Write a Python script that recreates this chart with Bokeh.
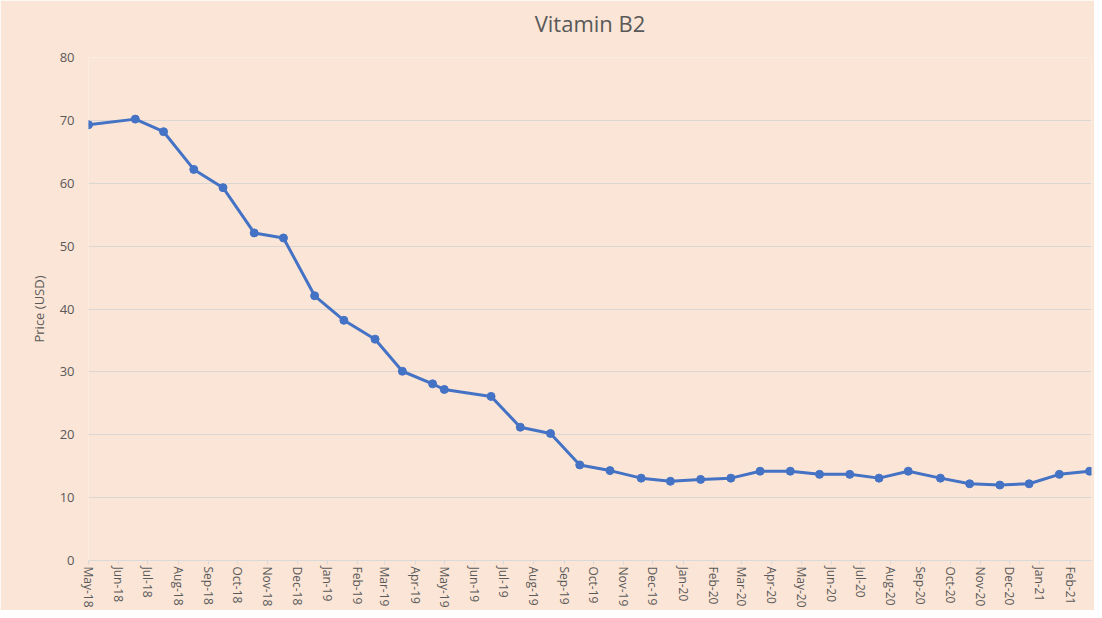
from datetime import datetime
from bokeh.plotting import figure
from bokeh.models import (Range1d, DatetimeTickFormatter, MonthsTicker,
                          ColumnDataSource, FixedTicker, Title)
from bokeh.embed import file_html
from bokeh.resources import INLINE

# ---- data ----
dates = [
    "2018-05-01", "2018-06-18", "2018-07-17", "2018-08-17", "2018-09-16",
    "2018-10-18", "2018-11-17", "2018-12-19", "2019-01-18", "2019-02-19",
    "2019-03-19", "2019-04-19", "2019-05-01", "2019-06-18", "2019-07-18",
    "2019-08-18", "2019-09-17", "2019-10-18", "2019-11-19", "2019-12-19",
    "2020-01-19", "2020-02-19", "2020-03-20", "2020-04-20", "2020-05-20",
    "2020-06-20", "2020-07-20", "2020-08-19", "2020-09-21", "2020-10-21",
    "2020-11-21", "2020-12-21", "2021-01-21", "2021-02-21",
]
prices = [
    69.3, 70.2, 68.2, 62.2, 59.3,
    52.1, 51.3, 42.1, 38.2, 35.2,
    30.1, 28.1, 27.2, 26.1, 21.2,
    20.2, 15.2, 14.3, 13.1, 12.6,
    12.9, 13.1, 14.2, 14.2, 13.7,
    13.7, 13.1, 14.2, 13.1, 12.2,
    12.0, 12.2, 13.7, 14.2,
]
y_ticks = [0, 10, 20, 30, 40, 50, 60, 70, 80]
title_text = "Vitamin B2"
y_label = "Price (USD)"

BG = "#FBE5D6"
TXT = "#595959"
GRID = "#DCD6D2"
LINE = "#4472C4"
FONT = "Open Sans"

src = ColumnDataSource(dict(
    date=[datetime.strptime(d, "%Y-%m-%d") for d in dates],
    price=prices,
))

p = figure(
    width=1094, height=610,
    x_axis_type="datetime",
    x_range=Range1d(datetime(2018, 5, 1), datetime(2021, 2, 23)),
    y_range=Range1d(0, 80),
    output_backend="svg", toolbar_location=None,
    min_border_left=88, min_border_right=3,
    min_border_top=57, min_border_bottom=50,
    title=title_text,
)

p.background_fill_color = BG
p.border_fill_color = BG
p.outline_line_color = None

p.title.align = "center"
p.title.offset = -32
p.title.text_font = FONT
p.title.text_font_size = "22px"
p.title.text_font_style = "normal"
p.title.text_color = TXT

# empty spacer panel between the title and the plot frame
p.add_layout(Title(text=" ", text_font_size="10px", standoff=2), "above")

# x axis
p.xaxis.ticker = MonthsTicker(months=list(range(12)))
p.xaxis.formatter = DatetimeTickFormatter(
    days="%b-%y", months="%b-%y", years="%b-%y")
p.xaxis.major_label_orientation = "vertical"
p.xaxis.major_label_text_font = FONT
p.xaxis.major_label_text_font_size = "12px"
p.xaxis.major_label_text_color = TXT
p.xaxis.major_label_standoff = 2
p.xaxis.axis_line_color = "#D9D9D9"
p.xaxis.major_tick_line_color = "#D9D9D9"
p.xaxis.major_tick_out = 4
p.xaxis.major_tick_in = 0
p.xaxis.minor_tick_line_color = None
p.xaxis.minor_tick_out = 0
p.xaxis.minor_tick_in = 0

# y axis
p.yaxis.ticker = FixedTicker(ticks=y_ticks)
p.yaxis.axis_line_color = None
p.yaxis.major_tick_line_color = None
p.yaxis.minor_tick_line_color = None
p.yaxis.major_tick_out = 0
p.yaxis.major_tick_in = 0
p.yaxis.minor_tick_out = 0
p.yaxis.minor_tick_in = 0
p.yaxis.major_label_text_font = FONT
p.yaxis.major_label_text_font_size = "13px"
p.yaxis.major_label_text_color = TXT
p.yaxis.major_label_standoff = 14
p.yaxis.axis_label = y_label
p.yaxis.axis_label_text_font = FONT
p.yaxis.axis_label_text_font_size = "13px"
p.yaxis.axis_label_text_font_style = "normal"
p.yaxis.axis_label_text_color = TXT
p.yaxis.axis_label_standoff = 9

p.xgrid.grid_line_color = None
p.ygrid.grid_line_color = GRID
p.ygrid.grid_line_width = 1

p.line("date", "price", source=src, line_color=LINE, line_width=3)
p.scatter("date", "price", source=src, size=8,
          fill_color=LINE, line_color=LINE)

open("out.html", "w").write(file_html(p, INLINE))
